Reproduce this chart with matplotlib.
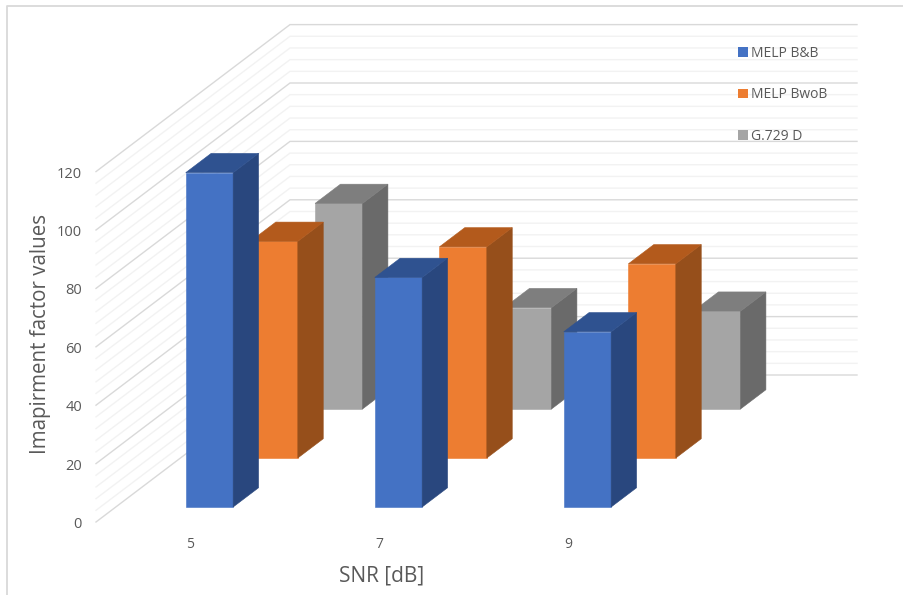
import matplotlib
matplotlib.use("Agg")
import matplotlib.pyplot as plt
from matplotlib.lines import Line2D
from matplotlib.patches import Patch, Polygon

plt.rcParams["font.family"] = ["Open Sans", "DejaVu Sans"]

# Chart values
categories = ["5", "7", "9"]
series_names = ["MELP B&B", "MELP BwoB", "G.729 D"]
melp_bb = [114.5, 78.6, 60.0]
melp_bwob = [74.2, 72.3, 66.5]
g729d = [70.4, 34.7, 33.5]
value_ticks = [0, 20, 40, 60, 80, 100, 120]
minor_step = 4

# Face colours per series: front, side, top
front_colors = ["#4472C4", "#ED7D31", "#A5A5A5"]
side_colors = ["#29477E", "#964F1B", "#6A6A6A"]
top_colors = ["#2F5290", "#B35A1C", "#7E7E7E"]
text_color = "#595959"

# Layout of the oblique box, in pixels of the 904x595 canvas
W, H = 904, 595
ORIGIN_X, ORIGIN_Y = 96, 522
SLOT_PX = 189
VALUE_PX = 2.92
DEPTH_DX, DEPTH_DY = 194, 147

fig = plt.figure(figsize=(W / 100, H / 100), dpi=100, facecolor="white")
ax = fig.add_axes([0, 0, 1, 1])
ax.set_xlim(-ORIGIN_X / SLOT_PX, (W - ORIGIN_X) / SLOT_PX)
ax.set_ylim((ORIGIN_Y - H) / VALUE_PX, ORIGIN_Y / VALUE_PX)
ax.axis("off")


def project(slot, value, depth):
    """Map box coordinates (category slot, value, depth 0-1) onto the axes."""
    return (slot + depth * DEPTH_DX / SLOT_PX, value + depth * DEPTH_DY / VALUE_PX)


# Outer chart frame
fig.add_artist(Line2D([7 / W, 7 / W, 1], [0, 1 - 6 / H, 1 - 6 / H],
                      color="#D9D9D9", lw=1.3))

# Side and back walls with their gridlines
n_slots = len(categories)
for v in range(value_ticks[0], value_ticks[-1] + 1, minor_step):
    color = "#D9D9D9" if v % 20 == 0 else "#F2F2F2"
    a = project(0, v, 0)
    b = project(0, v, 1)
    c = project(n_slots, v, 1)
    ax.plot([a[0], b[0], c[0]], [a[1], b[1], c[1]], color=color, lw=1.0,
            solid_joinstyle="miter", zorder=1)


def draw_bar(slot, value, series_index, zorder):
    left = slot + 0.370
    width = 0.251
    d0 = 0.102 + series_index / 3
    d1 = d0 + 0.131
    faces = [
        (front_colors, [(left, 0, d0), (left + width, 0, d0),
                        (left + width, value, d0), (left, value, d0)]),
        (side_colors, [(left + width, 0, d0), (left + width, 0, d1),
                       (left + width, value, d1), (left + width, value, d0)]),
        (top_colors, [(left, value, d0), (left + width, value, d0),
                      (left + width, value, d1), (left, value, d1)]),
    ]
    for palette, corners in faces:
        col = palette[series_index]
        ax.add_patch(Polygon([project(*p) for p in corners], closed=True,
                             facecolor=col, edgecolor=col, lw=0.4, zorder=zorder))


# Rows are painted from the back wall towards the viewer
all_series = [melp_bb, melp_bwob, g729d]
for s in (2, 1, 0):
    for i, val in enumerate(all_series[s]):
        draw_bar(i, val, s, zorder=2 + (2 - s))

# Value axis labels along the front edge of the side wall
for v in value_ticks:
    ax.text(-14 / SLOT_PX, v - 2.5 / VALUE_PX, str(v), ha="right", va="center",
            fontsize=10.5, color=text_color)

# Category labels
for i, lab in enumerate(categories):
    ax.text(i + 0.5, -22 / VALUE_PX, lab, ha="center", va="center",
            fontsize=10, color=text_color)

# Axis titles
ax.text(-55 / SLOT_PX, 64.5, "Imapirment factor values", rotation=90,
        ha="center", va="center", fontsize=14.8, color=text_color)
ax.text(1.51, -54 / VALUE_PX, "SNR [dB]",
        ha="center", va="center", fontsize=15, color=text_color)

# Legend
handles = [Patch(facecolor=c, edgecolor=c, lw=0) for c in front_colors]
ax.legend(handles, series_names, loc="upper left",
          bbox_to_anchor=(738 / W, 1 - 46 / H), frameon=False,
          fontsize=10, labelcolor=text_color, handlelength=0.72, handleheight=0.72,
          handletextpad=0.25, labelspacing=1.9, borderpad=0, borderaxespad=0)

fig.savefig("out.png", dpi=100, facecolor="white")
